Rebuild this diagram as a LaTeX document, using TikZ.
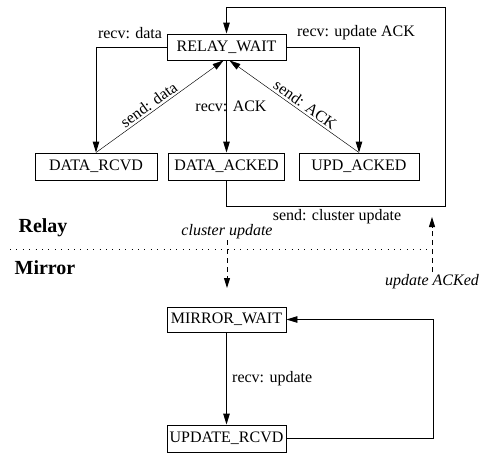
\documentclass[tikz,border=0pt]{standalone}
\usepackage{fontspec}
\setmainfont{Liberation Serif}
\usetikzlibrary{arrows.meta}
\begin{document}
\begin{tikzpicture}[x=1pt,y=-1pt,
  font=\fontsize{16}{19}\selectfont,
  state/.style={draw,line width=0.9pt,minimum height=26pt,inner xsep=2pt,inner ysep=0pt,anchor=center},
  arr/.style={line width=0.9pt,-{Triangle[length=11pt,width=6.5pt]}},
  thinarr/.style={line width=0.45pt,-{Triangle[length=11pt,width=6.5pt]}},
  dasharr/.style={line width=0.9pt,dash pattern=on 5pt off 4pt,-{Triangle[length=10pt,width=6pt]}},
  lbl/.style={inner sep=0pt},
  big/.style={font=\fontsize{20}{24}\selectfont\bfseries,inner sep=0pt}]
\path[use as bounding box] (0,0) rectangle (496,474);

% relay states
\node[state,minimum width=119pt] (rw) at (226.5,47) {RELAY\_WAIT};
\node[state,minimum width=122pt,minimum height=27pt] (dr) at (96,166.5) {DATA\_RCVD};
\node[state,minimum width=116pt,minimum height=27pt] (da) at (226.5,166.5) {DATA\_ACKED};
\node[state,minimum width=120pt,minimum height=27pt] (ua) at (359,166.5) {UPD\_ACKED};

% labels
\node[lbl] (lrd) at (130,33) {recv: data};
\node[lbl] (lru) at (356,33) {recv: update ACK};
\node[lbl] (lra) at (231,106) {recv: ACK};
\node[lbl] (lsc) at (337,217) {send: cluster update};

% relay transitions
\draw[arr] (rw.west) -| (dr.north);
\draw[arr] (rw.east) -| (ua.north);
\draw[arr] (rw.south) -- (da.north);
\draw[thinarr] (dr.north) -- node[sloped,above,inner sep=2pt,pos=0.45] (lsd) {send: data} ([xshift=-3pt]rw.south);
\draw[thinarr] (ua.north) -- node[sloped,above,inner sep=2pt,pos=0.45] (lsa) {send: ACK} ([xshift=3pt]rw.south);

\coordinate (c1) at (445,206);
\coordinate (c2) at (445,7);
\draw[arr] (da.south) -- (da.south |- c1) -- (c1) -- (c2) -- (rw.north |- c2) -- (rw.north);

% separator
\node[big] (relay) at (43,228) {Relay};
\node[big] (mirror) at (45,268) {Mirror};
\draw[line width=0.6pt,dash pattern=on 0.8pt off 5.6pt] (10,249) -- (437,249);

\node[lbl,font=\fontsize{16}{19}\selectfont\itshape] (lcu) at (227,232) {cluster update};
\node[lbl,font=\fontsize{16}{19}\selectfont\itshape] (luk) at (432,282) {update ACKed};
\coordinate (d1s) at (227,240);
\coordinate (d1e) at (227,288);
\coordinate (d2s) at (432,272);
\coordinate (d2e) at (432,217);
\draw[dasharr] (d1s) -- (d1e);
\draw[dasharr] (d2s) -- (d2e);

% mirror states
\node[state,minimum width=119pt,minimum height=25pt] (mw) at (226.5,319.5) {MIRROR\_WAIT};
\node[state,minimum width=119pt,minimum height=27pt] (ur) at (226.5,438.5) {UPDATE\_RCVD};
\draw[arr] (mw.south) -- (ur.north);
\node[lbl,anchor=west] (lru2) at (232,379) {recv: update};
\coordinate (c3) at (433,0);
\draw[arr] (ur.east) -- (ur.east -| c3) -- (mw.east -| c3) -- (mw.east);
\end{tikzpicture}
\end{document}
